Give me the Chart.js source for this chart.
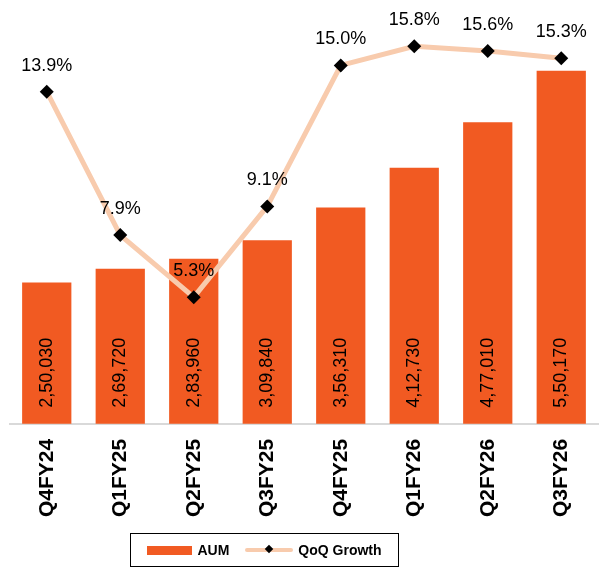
<!DOCTYPE html>
<html>
<head>
<meta charset="utf-8">
<script src="https://cdn.jsdelivr.net/npm/chart.js@4.4.1/dist/chart.umd.min.js"></script>
<style>
  html, body { margin: 0; padding: 0; background: #fff; }
  #wrap { position: relative; width: 605px; height: 569px; }
  #legend {
    position: absolute; left: 130px; top: 533px; width: 267px; height: 32px;
    border: 1.5px solid #000; display: flex; align-items: center; justify-content: center;
    font: bold 14px "Liberation Sans", Arial, sans-serif; color: #000;
  }
  .item { display: flex; align-items: center; margin: 0 8px; }
  .sw { margin-right: 5px; position: relative; }
</style>
</head>
<body>
<div id="wrap">
  <canvas id="c" width="605" height="569"></canvas>
  <div id="legend"></div>
</div>
<script>
// Dados do gráfico
const quarters = ['Q4FY24', 'Q1FY25', 'Q2FY25', 'Q3FY25', 'Q4FY25', 'Q1FY26', 'Q2FY26', 'Q3FY26'];
const aum = [250030, 269720, 283960, 309840, 356310, 412730, 477010, 550170];
const qoqGrowth = [13.9, 7.9, 5.3, 9.1, 15.0, 15.8, 15.6, 15.3];

const FONT = '"Liberation Sans", Arial, sans-serif';
const BAR_COLOR = '#F15A22';
const LINE_COLOR = '#F8CBAD';

// formato indiano: 2,50,030
const formatIN = (n) => {
    const s = String(Math.round(n));
    if (s.length <= 3) return s;
    const last3 = s.slice(-3);
    const rest = s.slice(0, -3).replace(/\B(?=(\d{2})+(?!\d))/g, ',');
    return rest + ',' + last3;
};

// rótulos dos valores (barras e linha)
const valueLabels = {
    id: 'valueLabels',
    afterDatasetsDraw(chart) {
        const ctx = chart.ctx;
        const bottom = chart.chartArea.bottom;
        ctx.save();
        ctx.fillStyle = '#000';
        ctx.font = '18px ' + FONT;

        chart.getDatasetMeta(1).data.forEach((el, i) => {
            ctx.save();
            ctx.translate(el.x, bottom - 16);
            ctx.rotate(-Math.PI / 2);
            ctx.textAlign = 'left';
            ctx.textBaseline = 'middle';
            ctx.fillText(formatIN(aum[i]), 0, 0);
            ctx.restore();
        });

        ctx.textAlign = 'center';
        ctx.textBaseline = 'middle';
        chart.getDatasetMeta(0).data.forEach((el, i) => {
            ctx.fillText(qoqGrowth[i].toFixed(1) + '%', el.x, el.y - 26);
        });
        ctx.restore();
    }
};

const chart = new Chart(document.getElementById('c'), {
    type: 'bar',
    data: {
        labels: quarters,
        datasets: [
            {
                type: 'line',
                label: 'QoQ Growth',
                data: qoqGrowth,
                yAxisID: 'y1',
                borderColor: LINE_COLOR,
                borderWidth: 5,
                tension: 0,
                pointStyle: 'rectRot',
                pointRadius: 7,
                pointHoverRadius: 7,
                pointBackgroundColor: '#000',
                pointBorderWidth: 0,
                order: 0
            },
            {
                label: 'AUM',
                data: aum,
                yAxisID: 'y',
                backgroundColor: BAR_COLOR,
                categoryPercentage: 1,
                barPercentage: 0.67,
                order: 1
            }
        ]
    },
    options: {
        responsive: false,
        animation: false,
        // a margem direita negativa compensa o espaço reservado ao último rótulo
        layout: { padding: { top: 32, left: 10, right: -3, bottom: 45 } },
        plugins: {
            legend: { display: false },
            tooltip: { enabled: false }
        },
        scales: {
            x: {
                grid: { display: false },
                border: { display: true, color: '#D9D9D9', width: 2 },
                ticks: {
                    color: '#000',
                    font: { family: FONT, size: 21, weight: 'bold' },
                    minRotation: 90,
                    maxRotation: 90,
                    padding: 7
                }
            },
            y: { display: false, min: 50000, max: 605000 },
            y1: { display: false, min: 0, max: 16.4 }
        }
    },
    plugins: [valueLabels]
});

// legenda em HTML com borda
const legend = document.getElementById('legend');
[chart.data.datasets[1], chart.data.datasets[0]].forEach(ds => {
    const item = document.createElement('div');
    item.className = 'item';
    const sw = document.createElement('span');
    sw.className = 'sw';
    if (ds.type === 'line') {
        sw.style.cssText = 'width:48px;height:4px;background:' + LINE_COLOR + ';display:inline-block;border-radius:2px;';
        const d = document.createElement('span');
        d.style.cssText = 'position:absolute;left:21px;top:-2px;width:6px;height:6px;background:#000;transform:rotate(45deg);';
        sw.appendChild(d);
    } else {
        sw.style.cssText = 'width:45px;height:9px;background:' + BAR_COLOR + ';display:inline-block;';
    }
    item.appendChild(sw);
    item.appendChild(document.createTextNode(ds.label));
    legend.appendChild(item);
});
</script>
</body>
</html>
